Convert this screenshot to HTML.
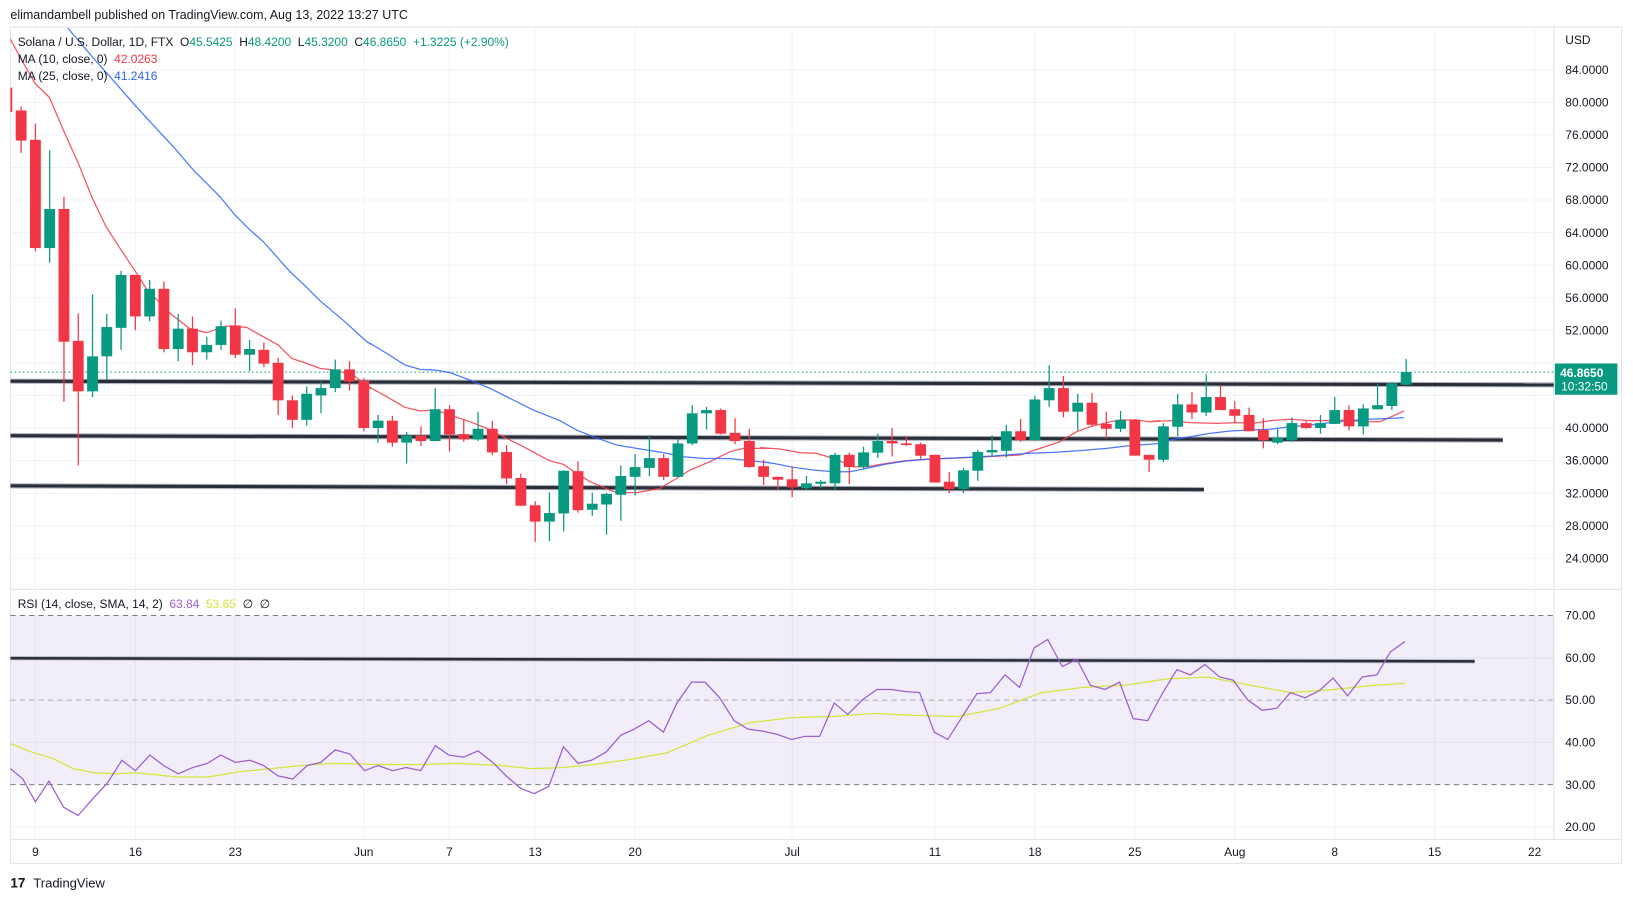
<!DOCTYPE html>
<html><head><meta charset="utf-8">
<style>
html,body{margin:0;padding:0;background:#fff;}
svg{display:block;font-family:"Liberation Sans",sans-serif;}
text{white-space:pre;}
</style></head>
<body>
<svg id="c" width="1633" height="901" viewBox="0 0 1568 865.1" xmlns="http://www.w3.org/2000/svg" xml:space="preserve">
<defs>
<clipPath id="mp"><rect x="10" y="27" width="1482" height="538"/></clipPath>
<clipPath id="rp"><rect x="10" y="567" width="1482" height="238"/></clipPath>
</defs>
<rect x="0" y="0" width="1568" height="866" fill="#fff"/>
<text x="10" y="18" font-size="12" fill="#131722">elimandambell published on TradingView.com, Aug 13, 2022 13:27 UTC</text>
<rect x="10" y="26" width="1547" height="803" fill="none" stroke="#e0e3eb" stroke-width="1"/>
<g id="grid" stroke="#f0f3fa" stroke-width="1"></g>
<line x1="10" y1="566" x2="1557" y2="566" stroke="#e0e3eb"/>
<line x1="10" y1="806" x2="1557" y2="806" stroke="#e0e3eb"/>
<line x1="1492" y1="26" x2="1492" y2="806" stroke="#e0e3eb"/>
<rect x="10" y="591" width="1482" height="162.4" fill="rgba(126,87,194,0.1)"/>
<line x1="10" y1="591" x2="1492" y2="591" stroke="#787b86" stroke-dasharray="5,4"/>
<line x1="10" y1="672.2" x2="1492" y2="672.2" stroke="#787b86" stroke-opacity="0.6" stroke-dasharray="5,4"/>
<line x1="10" y1="753.4" x2="1492" y2="753.4" stroke="#787b86" stroke-dasharray="5,4"/>
<g id="main" clip-path="url(#mp)"></g>
<g id="rsi" clip-path="url(#rp)"></g>
<text x="17" y="44" font-size="11.5" fill="#131722">Solana / U.S. Dollar, 1D, FTX  O<tspan fill="#089981">45.5425</tspan>  H<tspan fill="#089981">48.4200</tspan>  L<tspan fill="#089981">45.3200</tspan>  C<tspan fill="#089981">46.8650</tspan>  <tspan fill="#089981">+1.3225 (+2.90%)</tspan></text>
<text x="17" y="60.5" font-size="11.5" fill="#131722">MA (10, close, 0)  <tspan fill="#f23645">42.0263</tspan></text>
<text x="17" y="77" font-size="11.5" fill="#131722">MA (25, close, 0)  <tspan fill="#2962ff">41.2416</tspan></text>
<text x="17" y="584" font-size="11.5" fill="#131722">RSI (14, close, SMA, 14, 2)  <tspan fill="#9c5ed0">63.84</tspan>  <tspan fill="#d4e63a">53.65</tspan>  ∅  ∅</text>
<g font-size="11.5" fill="#131722" id="pax"><text x="1503" y="42">USD</text></g>
<rect x="1493" y="349" width="60" height="30" fill="#089981"/>
<text x="1498" y="362" font-size="11.5" font-weight="bold" fill="#fff">46.8650</text>
<text x="1499" y="375" font-size="11.5" fill="#fff">10:32:50</text>
<g font-size="11.5" fill="#131722" id="tax"></g>
<text x="10" y="852" font-size="13" font-weight="bold" fill="#131722">17</text>
<text x="32" y="852" font-size="12.5" fill="#131722">TradingView</text>
</svg>
<script>
const NS="http://www.w3.org/2000/svg";
function el(p,t,a){const e=document.createElementNS(NS,t);for(const k in a)e.setAttribute(k,a[k]);p.appendChild(e);return e;}
const X=d=>34+d*13.71, P=p=>536-(p-24)*7.817, R=r=>794-(r-20)*4.06;
const grid=document.getElementById('grid'), pax=document.getElementById('pax'), tax=document.getElementById('tax');
for(let p=24;p<=84;p+=4){const y=P(p);el(grid,'line',{x1:10,y1:y,x2:1492,y2:y});
 if(p!==48&&p!==44){const t=el(pax,'text',{x:1503,y:y+4});t.textContent=p.toFixed(4);}}
for(let r=20;r<=70;r+=10){const y=R(r);if(r!==30&&r!==50&&r!==70)el(grid,'line',{x1:10,y1:y,x2:1492,y2:y});const t=el(pax,'text',{x:1503,y:y+4});t.textContent=r.toFixed(2);}
const ticks=[[0,'9'],[7,'16'],[14,'23'],[23,'Jun'],[29,'7'],[35,'13'],[42,'20'],[53,'Jul'],[63,'11'],[70,'18'],[77,'25'],[84,'Aug'],[91,'8'],[98,'15'],[105,'22']];
ticks.forEach(([d,s])=>{const x=X(d);el(grid,'line',{x1:x,y1:26,x2:x,y2:806});const t=el(tax,'text',{x:x,y:822,'text-anchor':'middle'});t.textContent=s;});
const D=[[81.8,83,78.5,78.8],[79.0,79.5,73.8,75.3],[75.4,77.4,61.7,62.1],[62.1,74.1,60.3,66.9],[66.9,68.4,43.2,50.6],[50.7,54.1,35.4,44.5],
[44.5,56.4,43.8,48.8],[48.8,54.0,45.9,52.4],[52.3,59.3,49.6,58.8],[58.8,58.8,52.0,53.7],[53.7,58.2,53.1,57.1],[57.1,58.0,49.3,49.7],
[49.7,54.0,48.2,52.2],[52.2,53.7,47.7,49.3],[49.3,51.2,48.4,50.2],[50.2,53.2,49.6,52.5],[52.6,54.7,48.6,49.0],[49.0,50.8,47.0,49.7],
[49.6,50.5,47.5,47.9],[48.0,48.6,41.6,43.4],[43.4,44.0,40.0,41.0],[41.0,45.1,40.3,44.2],[44.0,45.7,41.8,44.9],[44.9,48.4,44.4,47.2],
[47.2,48.2,44.6,45.7],[45.8,46.1,39.6,40.0],[40.0,41.6,38.2,40.9],[40.9,41.5,37.7,38.2],[38.2,39.5,35.65,39.05],[39.05,40.2,37.8,38.4],
[38.4,44.9,38.4,42.3],[42.3,42.8,37.1,39.2],[39.25,41.0,38.3,38.6],[38.6,42.0,38.4,39.9],[39.9,40.85,36.7,37.0],[37.05,37.9,33.1,33.8],
[33.85,34.4,30.45,30.45],[30.5,31.0,26.0,28.5],[28.5,32.1,26.1,29.55],[29.5,34.8,27.3,34.75],[34.7,35.9,29.6,29.9],[29.96,32.05,29.2,30.7],
[30.6,32.05,26.9,31.9],[31.8,35.4,28.6,34.1],[34.0,36.8,31.7,35.2],[35.1,39.1,34.1,36.3],[36.3,36.8,33.6,34.0],[34.0,38.7,34.0,38.1],
[38.1,42.8,37.9,41.8],[41.8,42.6,39.8,42.2],[42.2,42.4,39.2,39.3],[39.4,41.2,38.0,38.4],[38.4,39.9,35.1,35.2],[35.3,36.1,33.0,34.0],
[34.0,34.0,32.4,33.65],[33.7,35.3,31.5,32.7],[32.6,34.1,32.4,33.2],[33.15,33.6,32.6,33.4],[33.2,36.96,32.4,36.7],[36.7,36.96,33.1,35.2],
[35.2,37.7,34.9,37.0],[36.96,39.3,36.3,38.4],[38.4,40.0,36.5,38.1],[38.1,38.9,37.8,37.9],[38.0,38.2,36.2,36.6],[36.7,36.7,33.3,33.3],
[33.4,34.6,32.0,32.5],[32.5,35.1,32.0,34.8],[34.75,37.3,33.5,37.05],[37.0,39.1,36.6,37.3],[37.2,40.4,36.4,39.6],[39.6,41.1,38.3,38.5],
[38.5,43.97,38.5,43.5],[43.4,47.7,42.6,44.9],[44.9,46.4,41.3,42.0],[42.0,44.2,39.7,43.1],[43.1,44.3,40.2,40.4],[40.5,42.0,38.7,39.9],
[39.9,42.1,39.5,41.0],[41.0,41.1,36.6,36.6],[36.7,36.7,34.6,36.1],[36.1,40.6,35.8,40.2],[40.15,44.2,39.0,42.9],[42.9,44.4,41.1,41.9],
[41.9,46.6,41.5,43.8],[43.8,45.2,42.2,42.2],[42.3,43.3,40.7,41.5],[41.6,42.5,39.6,39.6],[39.75,41.2,37.5,38.5],[38.2,39.9,38.0,38.8],
[38.5,41.3,38.3,40.6],[40.6,40.85,39.9,40.0],[40.0,41.6,39.3,40.6],[40.5,43.8,40.5,42.2],[42.2,42.8,39.7,40.2],[40.2,42.9,39.2,42.4],
[42.3,45.4,42.3,42.8],[42.7,45.5,42.2,45.5],[45.3,48.5,45.3,46.865]];
const main=document.getElementById('main'), rsi=document.getElementById('rsi');
[[10,366,1492,369.5],[10,418.3,1443,422.5],[10,466.5,1156,470]].forEach(([a,b,c,d])=>{
 el(main,'line',{x1:a,y1:b,x2:c,y2:d,stroke:'#b2b5be',"stroke-width":5});
 el(main,'line',{x1:a,y1:b,x2:c,y2:d,stroke:'#2a2e39',"stroke-width":3});});
el(main,'line',{x1:10,y1:P(46.865),x2:1492,y2:P(46.865),stroke:'#089981','stroke-dasharray':'1.5,2.5'});
function conv(arr,ox,oy){return arr.map(([a,b])=>[((ox+a/3)/1.0415).toFixed(1),((oy+b/3)/1.0415).toFixed(1)].join(',')).join(' ');}
const red=[conv([[0,-120],[65,0],[105,70],[148,112],[190,210],[235,310],[275,410],[318,500],[360,565],[410,640],[440,688],[510,760],[568,805],[620,818],[680,798],[740,802],[790,830],[835,855],[875,895],[920,910],[960,925],[1000,930],[1060,945],[1110,985]],0,60),
 conv([[0,172],[50,200],[105,232],[150,243],[195,240],[240,255],[300,275],[350,295],[400,320],[460,350],[540,393],[580,403],[620,430],[660,455],[700,472],[740,488],[800,488],[870,475],[920,445],[960,420],[1020,395],[1080,365],[1120,355],[1200,355]],370,330),
 conv([[0,353],[60,357],[120,368],[170,370],[220,385],[280,410],[320,410],[380,400],[440,392],[500,388],[560,385],[620,383],[680,380],[780,375],[840,355],[900,335],[950,305],[990,290],[1040,278],[1080,270],[1130,270],[1170,275],[1200,272]],760,330),
 conv([[0,275],[60,272],[120,278],[200,280],[260,278],[310,280],[360,272],[420,268],[480,272],[540,272],[590,270],[640,275],[690,275],[720,262],[762,243]],1150,330)].join(' ');
const blue=[conv([[200,-100],[285,0],[330,50],[400,130],[450,185],[520,260],[580,330],[660,410],[705,465],[750,510],[790,545],[830,590],[870,635],[910,672],[960,722],[1040,790],[1100,845],[1110,851]],0,60),
 conv([[0,40],[50,70],[105,105],[150,118],[195,120],[240,128],[300,150],[360,175],[420,205],[490,240],[570,272],[620,300],[670,320],[740,345],[800,355],[880,368],[940,380],[1000,385],[1080,386],[1200,398]],370,330),
 conv([[0,395],[40,400],[100,412],[160,420],[220,425],[270,425],[320,415],[380,402],[440,393],[500,388],[560,385],[620,382],[700,378],[800,370],[880,367],[960,362],[1040,355],[1100,348],[1200,340]],760,330),
 conv([[60,330],[120,320],[180,310],[240,303],[300,300],[360,298],[420,290],[480,285],[540,278],[600,272],[660,268],[720,265],[762,263]],1150,330)].join(' ');
el(main,'polyline',{points:red,fill:'none',stroke:'#f23645','stroke-width':1.2,'stroke-opacity':0.85});
el(main,'polyline',{points:blue,fill:'none',stroke:'#2962ff','stroke-width':1.2,'stroke-opacity':0.85});
D.forEach(([o,h,l,c],i)=>{const d=i-2,x=X(d),col=c>=o?'#089981':'#f23645';
 el(main,'line',{x1:x,y1:P(h),x2:x,y2:P(l),stroke:col,'stroke-width':1.2});
 const t=P(Math.max(o,c)),b=P(Math.min(o,c));el(main,'rect',{x:x-5.2,y:t,width:10.4,height:Math.max(1,b-t),fill:col});});
el(rsi,'line',{x1:10,y1:632,x2:1416,y2:635,stroke:'#b2b5be','stroke-width':4});
el(rsi,'line',{x1:10,y1:632,x2:1416,y2:635,stroke:'#2a2e39','stroke-width':2.4});
const ry=[738,748,770,750,775,783,767,752,730,740,725,735,743,737,733,725,732,730,735,745,748,735,732,720,724,740,735,740,737,740,716,725,727,721,732,745,757,762,755,717,733,730,722,706,700,692,703,675,655,655,670,692,700,702,705,710,707,707,675,686,672,662,662,664,665,703,710,688,666,665,648,660,622,614,640,633,658,662,655,690,692,666,643,648,638,650,653,672,682,680,665,670,663,651,668,650,648,626,616];
const rx=[10,22,34,47,61,75,89,103,117,130,144,157,171,185,199,212,226,240,253,267,281,295,308,322,336,350,363,377,390,404,418,431,445,459,473,486,500,513,527,541,555,568,582,596,609,623,637,650,664,677,691,705,718,732,746,760,773,787,801,814,828,842,856,869,883,897,910,924,938,951,965,979,993,1006,1020,1034,1047,1061,1075,1088,1102,1116,1130,1143,1157,1171,1184,1198,1212,1226,1239,1253,1267,1280,1294,1308,1322,1335,1349];
const yl=[[10,714],[30,722],[50,728],[70,738],[90,742],[110,743],[130,742],[150,744],[170,746],[200,746],[230,741],[260,738],[290,735],[320,733],[360,734],[400,734],[440,733],[480,735],[510,738],[540,737],[570,734],[600,730],[640,723],[680,706],[720,694],[760,689],[800,688],[840,685],[880,687],[920,688],[960,680],[1000,665],[1040,660],[1080,658],[1120,652],[1160,650],[1200,658],[1240,665],[1280,662],[1320,658],[1349,656]];
el(rsi,'polyline',{points:yl.map(p=>p.join(',')).join(' '),fill:'none',stroke:'#d4e63a','stroke-width':1.2});
el(rsi,'polyline',{points:rx.map((x,i)=>x+','+ry[i]).join(' '),fill:'none',stroke:'#9c5ed0','stroke-width':1.2});
</script>
</body></html>
